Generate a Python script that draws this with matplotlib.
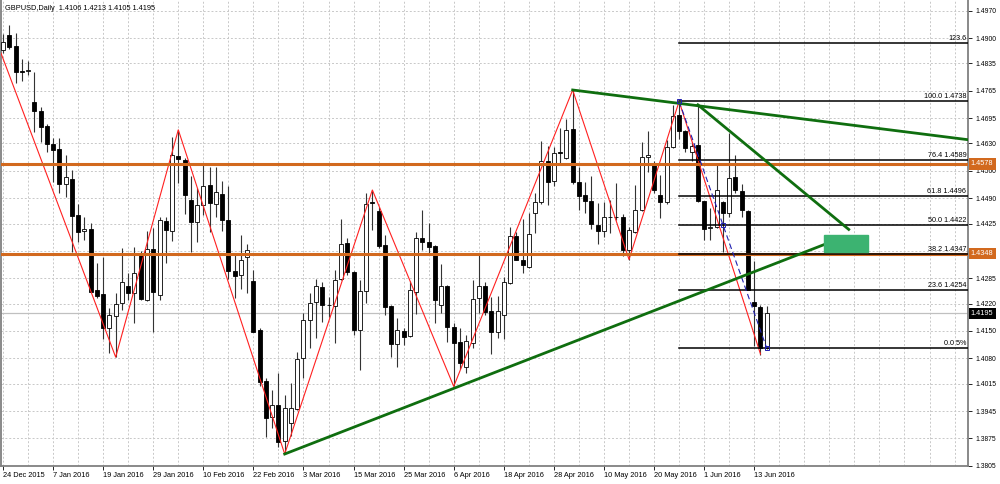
import matplotlib
matplotlib.use('Agg')
import matplotlib.pyplot as plt
import matplotlib.transforms as mtransforms
from matplotlib.patches import Rectangle

plt.rcParams['font.family'] = ['Liberation Sans', 'DejaVu Sans']

# GBPUSD diario, 24 Dec 2015 - 15 Jun 2016 (una vela por dia habil)
opens = [1.4869, 1.4908, 1.4880, 1.4815, 1.4816, 1.4737, 1.4714, 1.4675, 1.4629, 1.4615,
         1.4527, 1.4540, 1.4447, 1.4406, 1.4410, 1.4255, 1.4245, 1.4157, 1.4188, 1.4221,
         1.4266, 1.4246, 1.4345, 1.4230, 1.4359, 1.4242, 1.4432, 1.4407, 1.4599, 1.4588,
         1.4485, 1.4430, 1.4473, 1.4524, 1.4474, 1.4500, 1.4434, 1.4304, 1.4293, 1.4339,
         1.4278, 1.4153, 1.4023, 1.3929, 1.3961, 1.3868, 1.3914, 1.3949, 1.4080, 1.4178,
         1.4223, 1.4262, 1.4217, 1.4214, 1.4282, 1.4374, 1.4302, 1.4153, 1.4253, 1.4481,
         1.4458, 1.4370, 1.4214, 1.4117, 1.4151, 1.4137, 1.4251, 1.4387, 1.4379, 1.4368,
         1.4217, 1.4266, 1.4159, 1.4123, 1.4059, 1.4120, 1.4234, 1.4264, 1.4202, 1.4148,
         1.4191, 1.4272, 1.4393, 1.4333, 1.4315, 1.4453, 1.4479, 1.4584, 1.4535, 1.4607,
         1.4592, 1.4666, 1.4532, 1.4498, 1.4484, 1.4422, 1.4407, 1.4441, 1.4443, 1.4441,
         1.4357, 1.4404, 1.4460, 1.4596, 1.4575, 1.4498, 1.4479, 1.4622, 1.4703, 1.4663,
         1.4609, 1.4626, 1.4483, 1.4413, 1.4415, 1.4479, 1.4453, 1.4544, 1.4508, 1.4457,
         1.4223, 1.4212, 1.4106]
highs = [1.4910, 1.4934, 1.4912, 1.4846, 1.4842, 1.4814, 1.4723, 1.4680, 1.4643, 1.4643,
         1.4601, 1.4561, 1.4475, 1.4443, 1.4427, 1.4323, 1.4340, 1.4208, 1.4248, 1.4362,
         1.4298, 1.4366, 1.4356, 1.4407, 1.4413, 1.4443, 1.4443, 1.4647, 1.4665, 1.4592,
         1.4547, 1.4515, 1.4578, 1.4571, 1.4571, 1.4535, 1.4520, 1.4349, 1.4396, 1.4373,
         1.4306, 1.4157, 1.4029, 1.3999, 1.4042, 1.3985, 1.4016, 1.4095, 1.4195, 1.4248,
         1.4282, 1.4276, 1.4238, 1.4306, 1.4436, 1.4387, 1.4304, 1.4281, 1.4502, 1.4511,
         1.4468, 1.4396, 1.4217, 1.4183, 1.4157, 1.4279, 1.4404, 1.4460, 1.4426, 1.4370,
         1.4322, 1.4268, 1.4171, 1.4157, 1.4140, 1.4281, 1.4345, 1.4276, 1.4238, 1.4240,
         1.4289, 1.4415, 1.4404, 1.4436, 1.4451, 1.4502, 1.4637, 1.4624, 1.4622, 1.4669,
         1.4694, 1.4767, 1.4571, 1.4532, 1.4547, 1.4477, 1.4481, 1.4485, 1.4528, 1.4450,
         1.4415, 1.4524, 1.4635, 1.4662, 1.4584, 1.4549, 1.4639, 1.4729, 1.4738, 1.4665,
         1.4635, 1.4729, 1.4483, 1.4464, 1.4578, 1.4483, 1.4658, 1.4600, 1.4526, 1.4460,
         1.4330, 1.4217, 1.4213]
lows = [1.4862, 1.4871, 1.4784, 1.4791, 1.4805, 1.4660, 1.4635, 1.4607, 1.4532, 1.4504,
        1.4492, 1.4351, 1.4379, 1.4383, 1.4251, 1.4234, 1.4129, 1.4093, 1.4083, 1.4204,
        1.4230, 1.4171, 1.4230, 1.4228, 1.4148, 1.4230, 1.4325, 1.4381, 1.4528, 1.4450,
        1.4351, 1.4379, 1.4447, 1.4404, 1.4443, 1.4407, 1.4282, 1.4234, 1.4257, 1.4246,
        1.4148, 1.4008, 1.3879, 1.3901, 1.3853, 1.3835, 1.3880, 1.3948, 1.4029, 1.4106,
        1.4131, 1.4174, 1.4187, 1.4118, 1.4281, 1.4293, 1.4140, 1.4050, 1.4221, 1.4409,
        1.4362, 1.4191, 1.4083, 1.4059, 1.4114, 1.4135, 1.4194, 1.4357, 1.4349, 1.4170,
        1.4195, 1.4123, 1.4008, 1.4052, 1.4042, 1.4106, 1.4195, 1.4191, 1.4091, 1.4131,
        1.4129, 1.4270, 1.4332, 1.4298, 1.4310, 1.4400, 1.4475, 1.4473, 1.4520, 1.4575,
        1.4590, 1.4526, 1.4460, 1.4453, 1.4410, 1.4373, 1.4390, 1.4400, 1.4434, 1.4342,
        1.4333, 1.4400, 1.4456, 1.4558, 1.4502, 1.4438, 1.4475, 1.4618, 1.4641, 1.4607,
        1.4584, 1.4481, 1.4383, 1.4383, 1.4413, 1.4351, 1.4443, 1.4502, 1.4441, 1.4255,
        1.4112, 1.4089, 1.4105]
closes = [1.4890, 1.4878, 1.4814, 1.4813, 1.4817, 1.4714, 1.4673, 1.4629, 1.4613, 1.4526,
          1.4544, 1.4444, 1.4404, 1.4412, 1.4251, 1.4240, 1.4157, 1.4191, 1.4219, 1.4276,
          1.4248, 1.4298, 1.4231, 1.4359, 1.4251, 1.4434, 1.4409, 1.4600, 1.4590, 1.4498,
          1.4430, 1.4472, 1.4521, 1.4477, 1.4507, 1.4433, 1.4304, 1.4291, 1.4333, 1.4357,
          1.4148, 1.4020, 1.3926, 1.3961, 1.3866, 1.3952, 1.3952, 1.4078, 1.4178, 1.4221,
          1.4264, 1.4217, 1.4216, 1.4281, 1.4373, 1.4300, 1.4153, 1.4252, 1.4474, 1.4477,
          1.4368, 1.4212, 1.4117, 1.4153, 1.4135, 1.4255, 1.4387, 1.4379, 1.4366, 1.4230,
          1.4265, 1.4159, 1.4120, 1.4067, 1.4125, 1.4231, 1.4264, 1.4199, 1.4148, 1.4202,
          1.4276, 1.4393, 1.4333, 1.4319, 1.4398, 1.4481, 1.4584, 1.4532, 1.4605, 1.4605,
          1.4665, 1.4531, 1.4496, 1.4484, 1.4424, 1.4407, 1.4443, 1.4443, 1.4441, 1.4357,
          1.4409, 1.4460, 1.4596, 1.4600, 1.4511, 1.4481, 1.4622, 1.4701, 1.4663, 1.4618,
          1.4624, 1.4483, 1.4410, 1.4415, 1.4511, 1.4453, 1.4541, 1.4511, 1.4461, 1.4255,
          1.4214, 1.4106, 1.4195]

date_labels = ['24 Dec 2015', '7 Jan 2016', '19 Jan 2016', '29 Jan 2016', '10 Feb 2016',
               '22 Feb 2016', '3 Mar 2016', '15 Mar 2016', '25 Mar 2016', '6 Apr 2016',
               '18 Apr 2016', '28 Apr 2016', '10 May 2016', '20 May 2016', '1 Jun 2016',
               '13 Jun 2016']
# 1.4355 queda tapado por la etiqueta naranja, por eso va sin texto
price_ticks = [1.4970, 1.4900, 1.4835, 1.4765, 1.4695, 1.4630, 1.4560, 1.4490,
               1.4425, 1.4355, 1.4285, 1.4220, 1.4150, 1.4080, 1.4015, 1.3945,
               1.3875, 1.3805]
price_tick_labels = ['1.4970', '1.4900', '1.4835', '1.4765', '1.4695', '1.4630', '1.4560',
                     '1.4490', '1.4425', '', '1.4285', '1.4220', '1.4150', '1.4080',
                     '1.4015', '1.3945', '1.3875', '1.3805']

# zigzag (barra, precio)
zz_bar = [-1, 18, 28, 45, 59, 72, 91, 100, 108, 121]
zz_price = [1.4890, 1.4083, 1.4665, 1.3835, 1.4511, 1.4008, 1.4767, 1.4333, 1.4738, 1.4091]

# fibonacci desde el maximo de la barra 108 hasta la barra 122
fib_bars = [108, 122]
fib_ends = [1.4738, 1.4106]
fib_prices = [1.4887, 1.4738, 1.4589, 1.4496, 1.4422, 1.4347, 1.4254, 1.4106]
fib_texts = ['123.6', '100.0 1.4738', '76.4 1.4589', '61.8 1.4496', '50.0 1.4422',
             '38.2 1.4347', '23.6 1.4254', '0.0 5%']

# lineas de tendencia verdes
support_bars = [45, 132.1]
support_prices = [1.3835, 1.4377]
resist_bars = [91, 154.5]
resist_prices = [1.4767, 1.4639]
steep_bars = [111, 135.1]
steep_prices = [1.4729, 1.4410]
box_bars = [131.2, 138.1]
box_prices = [1.4352, 1.4396]

levels = [1.4578, 1.4348]
bid = 1.4195

fig = plt.figure(figsize=(10, 4.84), dpi=100)
ax = fig.add_axes([0.001, 18 / 484, 0.967, 466 / 484])
ax.set_xlim(-0.32, 154.15)
ax.set_ylim(1.38043, 1.49974)

# rejilla
ax.set_xticks(range(0, 8 * len(date_labels), 8))
ax.set_xticks(range(0, 155, 4), minor=True)
ax.set_xticklabels(date_labels, ha='left', fontsize=5.3)
ax.set_yticks(price_ticks)
ax.set_yticklabels(price_tick_labels, fontsize=4.9)
ax.yaxis.tick_right()
ax.tick_params(axis='y', direction='out', length=3, width=0.6, pad=2)
ax.tick_params(axis='x', which='major', direction='out', length=3, width=0.6, pad=1)
ax.tick_params(axis='x', which='minor', length=0)
ax.grid(True, which='both', axis='x', color='#c8c8c8', linestyle=(0, (2, 2)), linewidth=0.7)
ax.grid(True, which='major', axis='y', color='#c8c8c8', linestyle=(0, (2, 2)), linewidth=0.7)
ax.set_axisbelow(True)
for s in ['left', 'right', 'bottom']:
    ax.spines[s].set_color('#808080')
    ax.spines[s].set_linewidth(1.3)
ax.spines['top'].set_visible(False)

# velas
idx = list(range(len(opens)))
ax.vlines(idx, lows, highs, color='#333333', linewidth=0.8, zorder=2)
bodies = [abs(c - o) for o, c in zip(opens, closes)]
bottoms = [min(o, c) for o, c in zip(opens, closes)]
colors = ['white' if c >= o else 'black' for o, c in zip(opens, closes)]
ax.bar(idx, bodies, bottom=bottoms, width=0.64, color=colors, edgecolor='black',
       linewidth=0.6, zorder=3)

# zigzag rojo
ax.plot(zz_bar, zz_price, color='#ff2020', linewidth=0.8, zorder=4)

# bid
ax.axhline(bid, color='#c0c0c0', linewidth=0.9, zorder=1)

# niveles naranjas
for lv in levels:
    ax.axhline(lv, color='#d2691e', linewidth=2.2, zorder=5)

# fibonacci
for p, t in zip(fib_prices, fib_texts):
    ax.plot([fib_bars[0], 154.15], [p, p], color='black', linewidth=1.1, zorder=5)
    ax.text(153.9, p + 0.00025, t, ha='right', va='bottom', fontsize=5.2, zorder=6)
ax.plot(fib_bars, fib_ends, color='#2020b0', linewidth=0.8, linestyle=(0, (5, 3)), zorder=6)
ax.plot([fib_bars[0], (fib_bars[0] + fib_bars[1]) / 2, fib_bars[1]],
        [fib_ends[0], (fib_ends[0] + fib_ends[1]) / 2, fib_ends[1]],
        linestyle='none', marker='s', markersize=2.5, markerfacecolor='none',
        markeredgecolor='#2020b0', markeredgewidth=0.7, zorder=7)

# lineas verdes
green = '#0f6e0f'
ax.plot(support_bars, support_prices, color=green, linewidth=2.0, zorder=6)
ax.plot(resist_bars, resist_prices, color=green, linewidth=2.0, zorder=6)
ax.plot(steep_bars, steep_prices, color=green, linewidth=2.0, zorder=6)
ax.add_patch(Rectangle((box_bars[0], box_prices[0]), box_bars[1] - box_bars[0],
                       box_prices[1] - box_prices[0], facecolor='#3cb371',
                       edgecolor='#3cb371', zorder=6))

# etiquetas de precio en el eje derecho
trans = mtransforms.blended_transform_factory(ax.transAxes, ax.transData)
for lv, bg in [(levels[0], '#d2691e'), (levels[1], '#d2691e'), (bid, 'black')]:
    ax.text(1.003, lv, '%.4f' % lv, transform=trans, ha='left', va='center',
            fontsize=5.3, color='white', zorder=10, clip_on=False,
            bbox=dict(facecolor=bg, edgecolor='none', boxstyle='square,pad=0.3'))

fig.text(0.005, 1 - 8 / 484, 'GBPUSD,Daily  1.4106 1.4213 1.4105 1.4195',
         fontsize=5.3, va='center', ha='left')

fig.savefig('out.png', dpi=100)
